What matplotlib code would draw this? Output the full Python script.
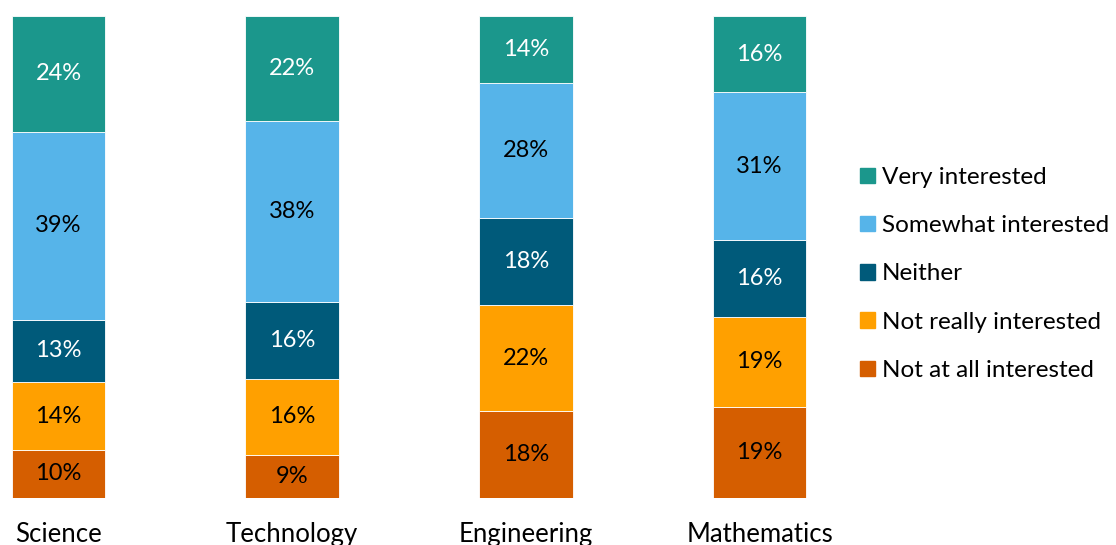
import numpy as np
from matplotlib import pyplot as plt
from matplotlib.patches import Patch

plt.rcParams['font.family'] = ['Lato', 'DejaVu Sans']

subjects = ['Science', 'Technology', 'Engineering', 'Mathematics']
levels = ['Not at all interested', 'Not really interested', 'Neither',
          'Somewhat interested', 'Very interested']
# percent per subject, bottom segment first
not_at_all = [10, 9, 18, 19]
not_really = [14, 16, 22, 19]
neither = [13, 16, 18, 16]
somewhat = [39, 38, 28, 31]
very = [24, 22, 14, 16]

colors = ['#d55e00', '#ffa000', '#005a7a', '#56b4e9', '#1b978c']
text_colors = ['black', 'black', 'white', 'black', 'white']

vals = np.array([not_at_all, not_really, neither, somewhat, very], dtype=float)
shares = vals / vals.sum(axis=0)  # 100% stacked

fig = plt.figure(figsize=(11.16, 5.45), dpi=100)
ax = fig.add_axes([0, 47 / 545, 840 / 1116, 482 / 545])

x = np.arange(len(subjects))
bottom = np.zeros(len(subjects))
for i, lvl in enumerate(levels):
    ax.bar(x, shares[i], 0.4, bottom=bottom, color=colors[i],
           edgecolor='white', linewidth=0.6, label=lvl)
    for j in range(len(subjects)):
        ax.text(x[j], bottom[j] + shares[i][j] / 2, f'{int(vals[i][j])}%',
                ha='center', va='center', fontsize=17, color=text_colors[i])
    bottom += shares[i]

ax.set_xlim(-0.2503, 3.344)
ax.set_ylim(0, 1)
ax.set_xticks(x)
ax.set_xticklabels(subjects, fontsize=18.5)
ax.tick_params(axis='x', length=0, pad=17)
ax.set_yticks([])
for s in ax.spines.values():
    s.set_visible(False)

handles = [Patch(color=colors[i]) for i in range(len(levels))][::-1]
fig.legend(handles, levels[::-1], loc='center left',
           bbox_to_anchor=(860 / 1116, (545 - 274) / 545), frameon=False,
           fontsize=17.5, handlelength=0.6, handleheight=0.6,
           handletextpad=0.3, labelspacing=1.12, borderaxespad=0,
           borderpad=0)

fig.savefig('out.png', dpi=100)
